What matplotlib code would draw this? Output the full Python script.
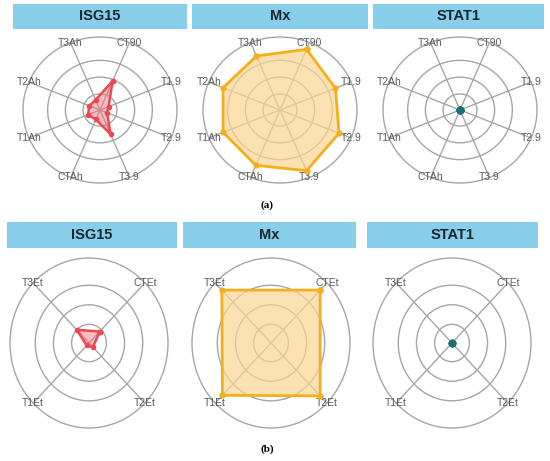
import matplotlib
matplotlib.use("Agg")
import matplotlib.pyplot as plt
from matplotlib.patches import Circle
import numpy as np

# spokes of the radar charts
axes_a = ["CT90", "T1.9", "T2.9", "T3.9", "CTAh", "T1Ah", "T2Ah", "T3Ah"]
axes_b = ["CTEt", "T2Et", "T1Et", "T3Et"]

# radial values (outer ring = 1)
isg15_a = [0.43, 0.12, 0.10, 0.36, 0.14, 0.17, 0.15, 0.15]
mx_a = [0.90, 0.78, 0.83, 0.90, 0.82, 0.80, 0.80, 0.80]
stat1_a = [0, 0, 0, 0, 0, 0, 0, 0]

isg15_b = [0.19, 0.07, 0.04, 0.22]
mx_b = [0.88, 0.88, 0.87, 0.88]
stat1_b = [0, 0, 0, 0]

rings = [0.22, 0.45, 0.68, 1.0]
genes = ["ISG15", "Mx", "STAT1"]
captions = ["(a)", "(b)"]

W, H = 550, 461
fig = plt.figure(figsize=(W / 100, H / 100), dpi=100)


def px_axes(x0, y0, w, h):
    return fig.add_axes([x0 / W, 1 - (y0 + h) / H, w / W, h / H])


def strip(x0, x1, y0, y1, title):
    ax = px_axes(x0, y0, x1 - x0, y1 - y0)
    ax.set_facecolor("#87ceeb")
    ax.set_xticks([])
    ax.set_yticks([])
    for s in ax.spines.values():
        s.set_visible(False)
    ax.text(0.5, 0.5, title, ha="center", va="center", fontsize=10.5,
            fontweight="bold", family="Liberation Sans", color="#1b252b",
            transform=ax.transAxes)


def radar(cx, cy, rx, ry, labels, values, style):
    lim = 1.25
    ax = px_axes(cx - lim * rx, cy - lim * ry, 2 * lim * rx, 2 * lim * ry)
    ax.set_xlim(-lim, lim)
    ax.set_ylim(-lim, lim)
    ax.axis("off")
    n = len(labels)
    ang = np.deg2rad(90 - 180 / n - 360 / n * np.arange(n))
    for r in rings:
        ax.add_patch(Circle((0, 0), r, fill=False, ec="#a6a6a6", lw=1.0, zorder=1))
    for a, lab in zip(ang, labels):
        ax.plot([0, np.cos(a)], [0, np.sin(a)], color="#a6a6a6", lw=1.0, zorder=1)
        ax.text(np.cos(a), np.sin(a), lab, ha="center", va="center",
                fontsize=7.5, family="Liberation Sans", color="#5a5a5a", zorder=2)
    v = np.array(values, dtype=float)
    xs = np.append(v * np.cos(ang), v[0] * np.cos(ang[0]))
    ys = np.append(v * np.sin(ang), v[0] * np.sin(ang[0]))
    if style == "red":
        ax.fill(xs, ys, color="#f26d74", alpha=0.45, lw=0, zorder=3)
        ax.plot(xs, ys, color="#ef4752", lw=1.8, marker="o", ms=3, zorder=4)
    elif style == "orange":
        ax.fill(xs, ys, color="#fbd693", alpha=0.7, lw=0, zorder=3)
        ax.plot(xs, ys, color="#f5ae1c", lw=2.0, marker="o", ms=3.5, zorder=4)
    else:
        ax.plot(xs, ys, color="#137178", lw=1.5, marker="o", ms=4.5, zorder=4)


# row (a)
strips_a = [(13, 187), (192, 368), (373, 544)]
centers_a = [100, 280, 460]
data_a = [isg15_a, mx_a, stat1_a]
styles = ["red", "orange", "teal"]
for (x0, x1), g in zip(strips_a, genes):
    strip(x0, x1, 4, 29, g)
for cx, d, s in zip(centers_a, data_a, styles):
    radar(cx, 110, 77, 73, axes_a, d, s)

# row (b)
strips_b = [(7, 177), (183, 356), (367, 538)]
centers_b = [89, 271, 452]
data_b = [isg15_b, mx_b, stat1_b]
for (x0, x1), g in zip(strips_b, genes):
    strip(x0, x1, 222, 248, g)
for cx, d, s in zip(centers_b, data_b, styles):
    radar(cx, 343, 79, 85, axes_b, d, s)

fig.text(267 / W, 1 - 205 / H, captions[0], ha="center", va="center",
         fontsize=8, fontweight="bold", family="Liberation Serif")
fig.text(267 / W, 1 - 449 / H, captions[1], ha="center", va="center",
         fontsize=8, fontweight="bold", family="Liberation Serif")

fig.savefig("out.png", dpi=100)
